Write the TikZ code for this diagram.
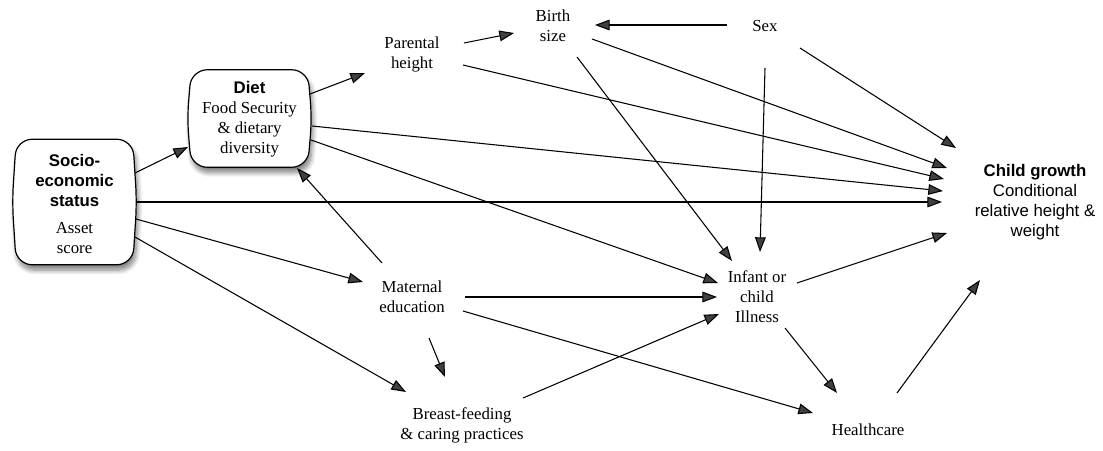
\documentclass[tikz,border=0pt]{standalone}
\usepackage{fontspec}
\setmainfont{Liberation Serif}
\setsansfont{Liberation Sans}
\usetikzlibrary{arrows.meta,calc,shadows.blur}

\tikzset{
  lbl/.style={align=center, inner sep=0pt, font=\fontsize{12.6}{15}\selectfont},
  headlbl/.style={lbl, font=\fontsize{12.6}{15}\selectfont\sffamily},
  boxnode/.style={lbl, minimum width=87.75pt, inner sep=0pt},
  boxline/.style={draw=black, line width=0.9pt, fill=white, rounded corners=12pt,
    blur shadow={shadow xshift=1.5pt, shadow yshift=-4pt, shadow blur radius=3.5pt,
                 shadow blur steps=8, shadow opacity=50}},
  arr/.style={line width=0.8pt, -{Triangle[length=11pt,width=8pt]}}
}

% bold sans heading line inside a box
\newcommand\hd[1]{\textsf{\textbf{#1}}}

% barrel-shaped box drawn round a named node
\newcommand\barrelbox[1]{%
  \path[boxline] (#1.north west) -- (#1.north east) -- ([xshift=3pt]#1.east)
    -- (#1.south east) -- (#1.south west) -- ([xshift=-3pt]#1.west) -- cycle;}

\begin{document}
\begin{tikzpicture}[x=0.75pt, y=-0.75pt]
\useasboundingbox (0,0) rectangle (1103,450);

% framed boxes: shapes first, then their texts on top
\coordinate (sesc) at (74.5,202);
\coordinate (dietc) at (249.5,118.5);
\node[boxnode, minimum height=93.75pt, minimum width=87pt] (sesframe) at (sesc) {};
\node[boxnode, minimum height=72.75pt, minimum width=87pt] (dietframe) at (dietc) {};
\barrelbox{sesframe}
\barrelbox{dietframe}

\node[lbl] (ses) at ($(sesc)+(0,2)$) {\hd{Socio-}\\\hd{economic}\\\hd{status}\\[5pt]Asset\\score};
\node[lbl] (diet) at ($(dietc)+(0,1)$) {\hd{Diet}\\Food Security\\\& dietary\\diversity};

% plain text factors
\node[lbl] (parental)   at (412,54)   {Parental\\height};
\node[lbl] (birth)      at (553,26)   {Birth\\size};
\node[lbl] (sex)        at (765,26)   {Sex};
\node[lbl] (maternal)   at (412,297)  {Maternal\\education};
\node[lbl] (infant)     at (757,297)  {Infant or\\child\\Illness};
\node[lbl] (healthcare) at (868,430)  {Healthcare};
\node[lbl] (breast)     at (462,425)  {Breast-feeding\\\& caring practices};
\node[headlbl] (growth) at (1035,202) {\textbf{Child growth}\\Conditional\\relative height \&\\weight};

% pathways
\draw[arr] ($(ses)+(60.5,-31)$) -- ($(diet)+(-61.5,27.5)$);
\draw[arr] ($(ses)+(61.5,-2)$) -- ($(growth)+(-93,0)$);
\draw[arr] ($(ses)+(61.5,15)$) -- ($(maternal)+(-49,-15)$);
\draw[arr] ($(ses)+(60.5,33)$) -- ($(breast)+(-56,-33)$);

\draw[arr] ($(diet)+(60.5,-25.5)$) -- ($(parental)+(-47,19)$);
\draw[arr] ($(diet)+(62.5,6.5)$) -- ($(growth)+(-92,-11)$);
\draw[arr] ($(diet)+(61.5,20.5)$) -- ($(infant)+(-39,-14)$);

\draw[arr] ($(maternal)+(-30,-34)$) -- ($(diet)+(47.5,48.5)$);
\draw[arr] ($(maternal)+(53,0)$) -- ($(infant)+(-40,0)$);
\draw[arr] ($(maternal)+(17,41)$) -- ($(breast)+(-17,-48)$);
\draw[arr] ($(maternal)+(51,14)$) -- ($(healthcare)+(-55,-17)$);

\draw[arr] ($(parental)+(52,-11)$) -- ($(birth)+(-39,7)$);
\draw[arr] ($(parental)+(51,11)$) -- ($(growth)+(-91,-23)$);

\draw[arr] ($(sex)+(-38,-1)$) -- ($(birth)+(42,-1)$);
\draw[arr] ($(sex)+(0,42)$) -- ($(infant)+(3,-45)$);
\draw[arr] ($(sex)+(35,22)$) -- ($(growth)+(-79,-54)$);

\draw[arr] ($(birth)+(39,13)$) -- ($(growth)+(-88,-34)$);
\draw[arr] ($(birth)+(24,31)$) -- ($(infant)+(-25,-36)$);

\draw[arr] ($(breast)+(61,-27)$) -- ($(infant)+(-38,17)$);

\draw[arr] ($(infant)+(40,-14)$) -- ($(growth)+(-88,31)$);
\draw[arr] ($(infant)+(28,31)$) -- ($(healthcare)+(-31,-37)$);

\draw[arr] ($(healthcare)+(29,-37)$) -- ($(growth)+(-55,78)$);
\end{tikzpicture}
\end{document}
